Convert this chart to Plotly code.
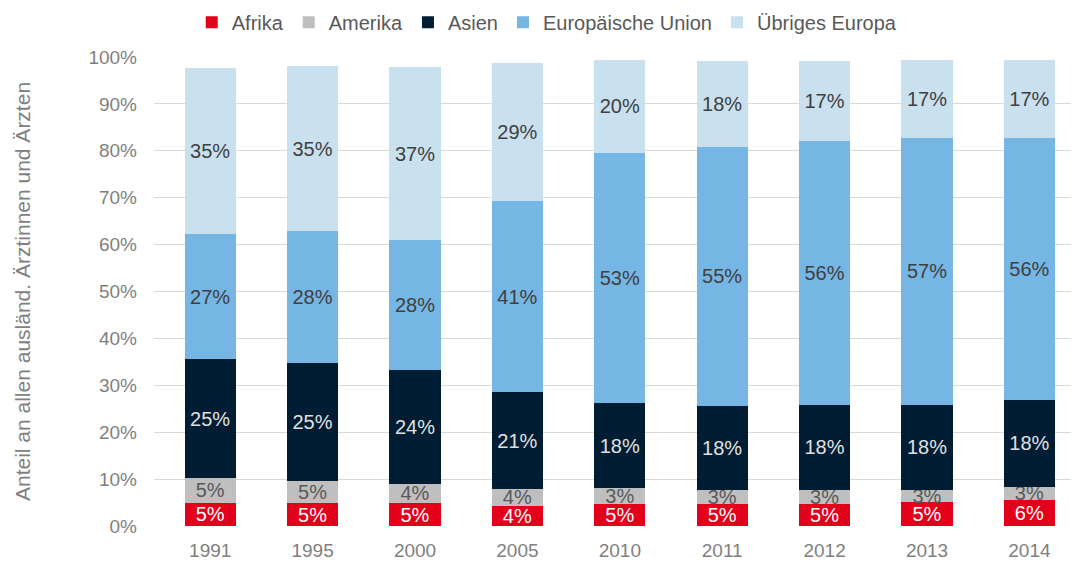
import plotly.graph_objects as go

years = ["1991", "1995", "2000", "2005", "2010", "2011", "2012", "2013", "2014"]
afrika = [5.0, 4.9, 4.9, 4.3, 4.6, 4.7, 4.7, 5.1, 5.6]
amerika = [5.2, 4.6, 4.1, 3.6, 3.4, 3.0, 3.0, 2.6, 2.8]
asien = [25.4, 25.3, 24.3, 20.6, 18.3, 17.9, 18.2, 18.2, 18.4]
eu = [26.6, 28.0, 27.6, 40.8, 53.3, 55.3, 56.1, 56.8, 55.9]
uebriges = [35.4, 35.2, 36.9, 29.4, 19.7, 18.2, 17.1, 16.6, 16.6]

series = [
    ("Afrika", afrika, "#E2001A", "#FFFFFF"),
    ("Amerika", amerika, "#BFBFBF", "#595959"),
    ("Asien", asien, "#001D33", "#E0E0E0"),
    ("Europäische Union", eu, "#76B6E4", "#404040"),
    ("Übriges Europa", uebriges, "#C9E0EF", "#404040"),
]

FONT = "Liberation Sans, Arial, sans-serif"

fig = go.Figure()
for name, vals, color, tcolor in series:
    fig.add_trace(go.Bar(
        name=name,
        x=list(range(len(years))),
        y=[v / 100 for v in vals],
        marker=dict(color=color, line=dict(width=0)),
        text=[f"{round(v):.0f}%" for v in vals],
        textposition="inside",
        insidetextanchor="middle",
        textangle=0,
        constraintext="none",
        insidetextfont=dict(family=FONT, size=20, color=tcolor),
        hoverinfo="skip",
    ))

fig.update_layout(
    barmode="stack",
    bargap=0.5,
    width=1073,
    height=561,
    paper_bgcolor="white",
    plot_bgcolor="white",
    margin=dict(l=154, r=2, t=57, b=35),
    font=dict(family=FONT, color="#7F7F7F"),
    legend=dict(
        orientation="h",
        xref="container", yref="container",
        x=0.51, y=0.995, xanchor="center", yanchor="top",
        font=dict(family=FONT, size=20, color="#595959"),
        itemwidth=30,
        traceorder="normal",
    ),
    xaxis=dict(
        tickmode="array",
        tickvals=list(range(len(years))),
        ticktext=years,
        range=[-0.549, 8.406],
        showgrid=False,
        showline=False,
        zeroline=False,
        ticks="",
        automargin=False,
        ticklabelstandoff=11,
        tickfont=dict(family=FONT, size=19, color="#7F7F7F"),
    ),
    yaxis=dict(
        range=[0, 1.0],
        tickvals=[i / 10 for i in range(11)],
        tickformat=".0%",
        showgrid=True,
        gridcolor="#D9D9D9",
        gridwidth=1,
        zeroline=False,
        showline=False,
        ticks="",
        automargin=False,
        ticklabelstandoff=16,
        tickfont=dict(family=FONT, size=19, color="#7F7F7F"),
        title=dict(
            text="Anteil an allen ausländ. Ärztinnen und Ärzten",
            font=dict(family=FONT, size=21, color="#7F7F7F"),
            standoff=52,
        ),
    ),
)

fig.write_html(
    "out.html",
    config={"displayModeBar": False},
    post_script="document.body.style.margin='0';",
)
